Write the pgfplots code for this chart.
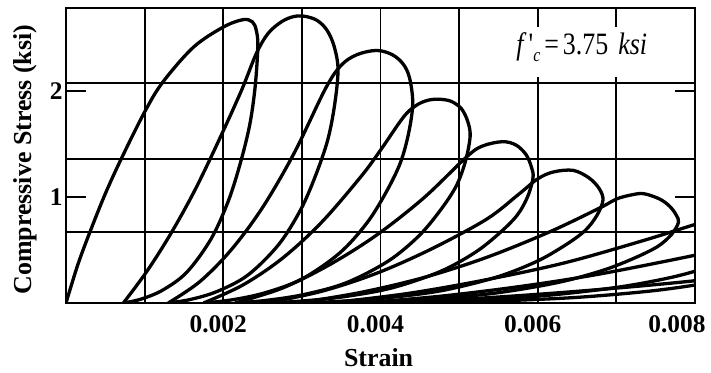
\documentclass[border=0pt]{standalone}
\usepackage{pgfplots}
\pgfplotsset{compat=1.18}
\usepackage{fontspec}
\setmainfont{Liberation Serif}
\usepackage{graphicx}
\begin{document}
\begin{tikzpicture}
\useasboundingbox (-66bp,-70bp) rectangle (645bp,303bp);
\begin{axis}[
  at={(0,0)}, anchor=south west,
  scale only axis, width=629bp, height=295bp,
  xmin=0, xmax=8, ymin=0, ymax=2.78,
  axis line style={line width=2.5bp, black},
  xtick={1,2,3,4,5,6,7,8},
  xticklabels={,0.002,,0.004,,0.006,,{\hspace*{-26bp}0.008}},
  xtick style={draw=none},
  xmajorgrids=true,
  ytick={1,2}, yticklabels={1,2},
  ytick style={line width=2.5bp, black},
  major tick length=20bp, tick align=inside,
  extra y ticks={0.67,1.36,2.07}, extra y tick labels={},
  extra y tick style={grid=major, tick style={draw=none}},
  grid style={black, line width=1.8bp},
  tick label style={font=\fontsize{25.5}{25.5}\selectfont\bfseries},
  xticklabel style={yshift=-9bp, xshift=-5bp},
  xlabel={Strain},
  ylabel={Compressive Stress (ksi)},
  label style={font=\fontsize{26}{26}\selectfont\bfseries},
  xlabel style={at={(axis description cs:0.497,0)}, anchor=base, yshift=-63bp},
  ylabel style={at={(axis description cs:-0.0556,0.486)}, anchor=base},
  cycle list={{black, solid, mark=none}},
  every axis plot/.append style={black, line width=3.3bp, smooth, tension=0.55, mark=none},
]
\fill[white] (axis cs:5.52,2.13) rectangle (axis cs:7.75,2.60);
\node[anchor=base, font=\fontsize{26}{26}\selectfont] at (axis cs:6.56,2.34)
  {\scalebox{1}[1.2]{\textit{f}\kern2bp\textquotesingle\raisebox{-0.45ex}{\fontsize{16}{16}\selectfont\textit{c}}\kern4bp=\kern4bp3.75\kern10bp\textit{ksi}}};
% cycle 1: initial loading + unloading
\addplot coordinates {(0,0) (0.15,0.36) (0.305,0.67) (0.5,1.03) (0.71,1.37) (1.0,1.80) (1.23,2.08) (1.62,2.41) (2.0,2.60) (2.25,2.67) (2.37,2.65) (2.42,2.57) (2.44,2.42) (2.406,2.04) (2.337,1.68) (2.218,1.32) (2.064,0.96) (1.842,0.60) (1.534,0.288) (1.226,0.12) (0.952,0.036) (0.73,0)};
% cycle 2
\addplot coordinates {(0.73,0) (1.03,0.30) (1.33,0.65) (1.63,1.05) (1.93,1.51) (2.23,2.0) (2.42,2.35) (2.57,2.54) (2.74,2.65) (2.9,2.70) (3.05,2.70) (3.2,2.66) (3.32,2.57) (3.41,2.42) (3.46,2.2) (3.417,1.87) (3.33,1.54) (3.179,1.21) (2.985,0.88) (2.704,0.55) (2.315,0.264) (1.926,0.11) (1.581,0.033) (1.30,0)};
% cycle 3
\addplot coordinates {(1.30,0) (1.70,0.20) (2.10,0.50) (2.50,0.90) (2.90,1.41) (3.30,2.02) (3.5,2.24) (3.7,2.34) (3.95,2.38) (4.15,2.34) (4.29,2.25) (4.37,2.12) (4.41,1.88) (4.357,1.598) (4.25,1.316) (4.064,1.034) (3.825,0.752) (3.479,0.47) (3.0,0.226) (2.521,0.094) (2.096,0.028) (1.75,0)};
% cycle 4
\addplot coordinates {(1.75,0) (2.25,0.17) (2.75,0.42) (3.25,0.76) (3.75,1.19) (4.0,1.44) (4.29,1.75) (4.45,1.86) (4.6,1.91) (4.75,1.92) (4.9,1.90) (5.03,1.83) (5.11,1.71) (5.14,1.57) (5.08,1.335) (4.961,1.099) (4.751,0.864) (4.482,0.628) (4.094,0.393) (3.555,0.188) (3.017,0.0785) (2.539,0.024) (2.15,0)};
% cycle 5
\addplot coordinates {(2.15,0) (2.75,0.14) (3.35,0.36) (3.95,0.64) (4.55,0.99) (5.10,1.38) (5.3,1.48) (5.55,1.52) (5.72,1.49) (5.85,1.40) (5.92,1.28) (5.94,1.18) (5.872,1.003) (5.737,0.826) (5.499,0.649) (5.194,0.472) (4.754,0.295) (4.143,0.142) (3.533,0.059) (2.991,0.018) (2.55,0)};
% cycle 6
\addplot coordinates {(2.55,0) (3.25,0.11) (3.95,0.28) (4.65,0.51) (5.35,0.79) (5.75,1.02) (6.0,1.17) (6.2,1.235) (6.45,1.25) (6.65,1.18) (6.78,1.08) (6.83,0.97) (6.752,0.825) (6.597,0.679) (6.326,0.534) (5.976,0.388) (5.472,0.243) (4.774,0.116) (4.075,0.0485) (3.454,0.0146) (2.95,0)};
% cycle 7
\addplot coordinates {(2.95,0) (3.75,0.10) (4.55,0.24) (5.35,0.43) (6.15,0.67) (6.8,0.90) (7.0,0.98) (7.2,1.02) (7.35,1.03) (7.55,0.98) (7.68,0.91) (7.76,0.83) (7.79,0.76) (7.701,0.646) (7.524,0.532) (7.213,0.418) (6.813,0.304) (6.236,0.19) (5.437,0.0912) (4.638,0.038) (3.927,0.0114) (3.35,0)};
% cycle 8
\addplot coordinates {(3.35,0) (4.35,0.09) (5.35,0.22) (6.35,0.38) (7.35,0.59) (8.0,0.74) (8.3,0.80) (8.55,0.78) (8.75,0.68) (8.8,0.6) (8.70,0.51) (8.497,0.42) (8.14,0.33) (7.69,0.24) (7.03,0.15) (6.12,0.072) (5.21,0.03) (4.41,0.009) (3.75,0)};
% cycle 9
\addplot coordinates {(3.75,0) (4.75,0.063) (5.75,0.153) (6.75,0.268) (8.0,0.45) (8.6,0.55) (9.0,0.55) (9.2,0.45) (9.1,0.33) (8.54,0.2475) (8.09,0.18) (7.43,0.1125) (6.52,0.054) (5.61,0.0225) (4.81,0.0068) (4.15,0)};
% cycle 10
\addplot coordinates {(4.15,0) (5.15,0.04) (6.15,0.09) (7.15,0.15) (8.0,0.21) (8.5,0.26)};
\end{axis}
\end{tikzpicture}
\end{document}
